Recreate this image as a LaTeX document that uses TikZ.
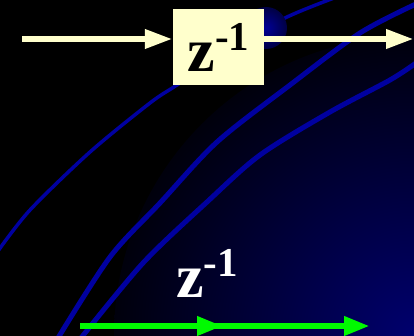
\documentclass[tikz,border=0pt]{standalone}
\usepackage{fontspec}
\setmainfont{Liberation Serif}
\usepackage{xcolor}
\definecolor{boxyellow}{RGB}{255,255,204}
\definecolor{curveblue}{RGB}{0,0,160}
\definecolor{bgnavy}{RGB}{0,0,110}
\definecolor{ballblue}{RGB}{0,0,150}
\definecolor{arrowgreen}{RGB}{0,250,0}
\usepackage{tikz}
\usetikzlibrary{
  arrows.meta,
  positioning,
  calc
}

\pgfdeclareradialshading{cornerglow}{\pgfpoint{0bp}{0bp}}{%
  color(0bp)=(bgnavy); color(28bp)=(black); color(50bp)=(black)}

\newcommand\zinv{z\raisebox{21pt}{\fontsize{41}{41}\selectfont -1}}

\begin{document}
\begin{tikzpicture}[
    x=1pt, y=-1pt,
    delaybox/.style={
      rectangle, fill=boxyellow, inner sep=0pt,
      minimum width=91pt, minimum height=76pt,
      font=\fontsize{62}{62}\selectfont\bfseries
    },
    ylink/.style={
      line width=6.5pt, boxyellow,
      -{Triangle[length=28pt,width=18pt]}
    },
    glink/.style={
      line width=6.5pt, arrowgreen,
      -{Triangle[length=26pt,width=18pt]}
    },
    bgcurve/.style={curveblue, line width=5pt}
  ]

  %% Background
  \useasboundingbox (0,0) rectangle (414,336);
  \fill[black] (0,0) rectangle (414,336);
  \begin{scope}
    \clip (0,0) rectangle (414,336);
    \shade[shading=cornerglow] (414,336) circle (300);
  \end{scope}

  %% Blue curves
  \draw[bgcurve, line width=3.5pt] plot[smooth] coordinates
    {(-2,251) (30,210) (90,152) (150,103) (177,85) (230,50) (285,18) (334,-2)};
  \draw[bgcurve] plot[smooth] coordinates
    {(58,338) (110,257) (160,203) (217,142) (290,85) (360,33) (416,4)};
  \draw[bgcurve] plot[smooth] coordinates
    {(81,338) (143,263) (207,202) (260,155) (330,112) (390,80) (416,63)};

  %% Ball behind the box
  \shade[inner color=ballblue, outer color=ballblue!45!black] (266,28) circle (21);

  %% Delay box and its arrows
  \node[delaybox] (delay) at (218.5,47) {\zinv};
  \coordinate (in)  at (22,39);
  \coordinate (out) at (414,39);
  \draw[ylink] (in) -- (in -| delay.west);
  \draw[ylink] (delay.east |- out) -- (out);

  %% Label and green arrow
  \node[font=\fontsize{62}{62}\selectfont\bfseries, text=white,
        anchor=base] (zlbl) at (207,297) {\zinv};
  \coordinate (gstart) at (80,326);
  \coordinate (gmid)   at (223,326);
  \coordinate (gend)   at (370,326);
  \draw[glink] (gstart) -- (gend);
  \draw[glink] (gstart) -- (gmid);

\end{tikzpicture}
\end{document}
